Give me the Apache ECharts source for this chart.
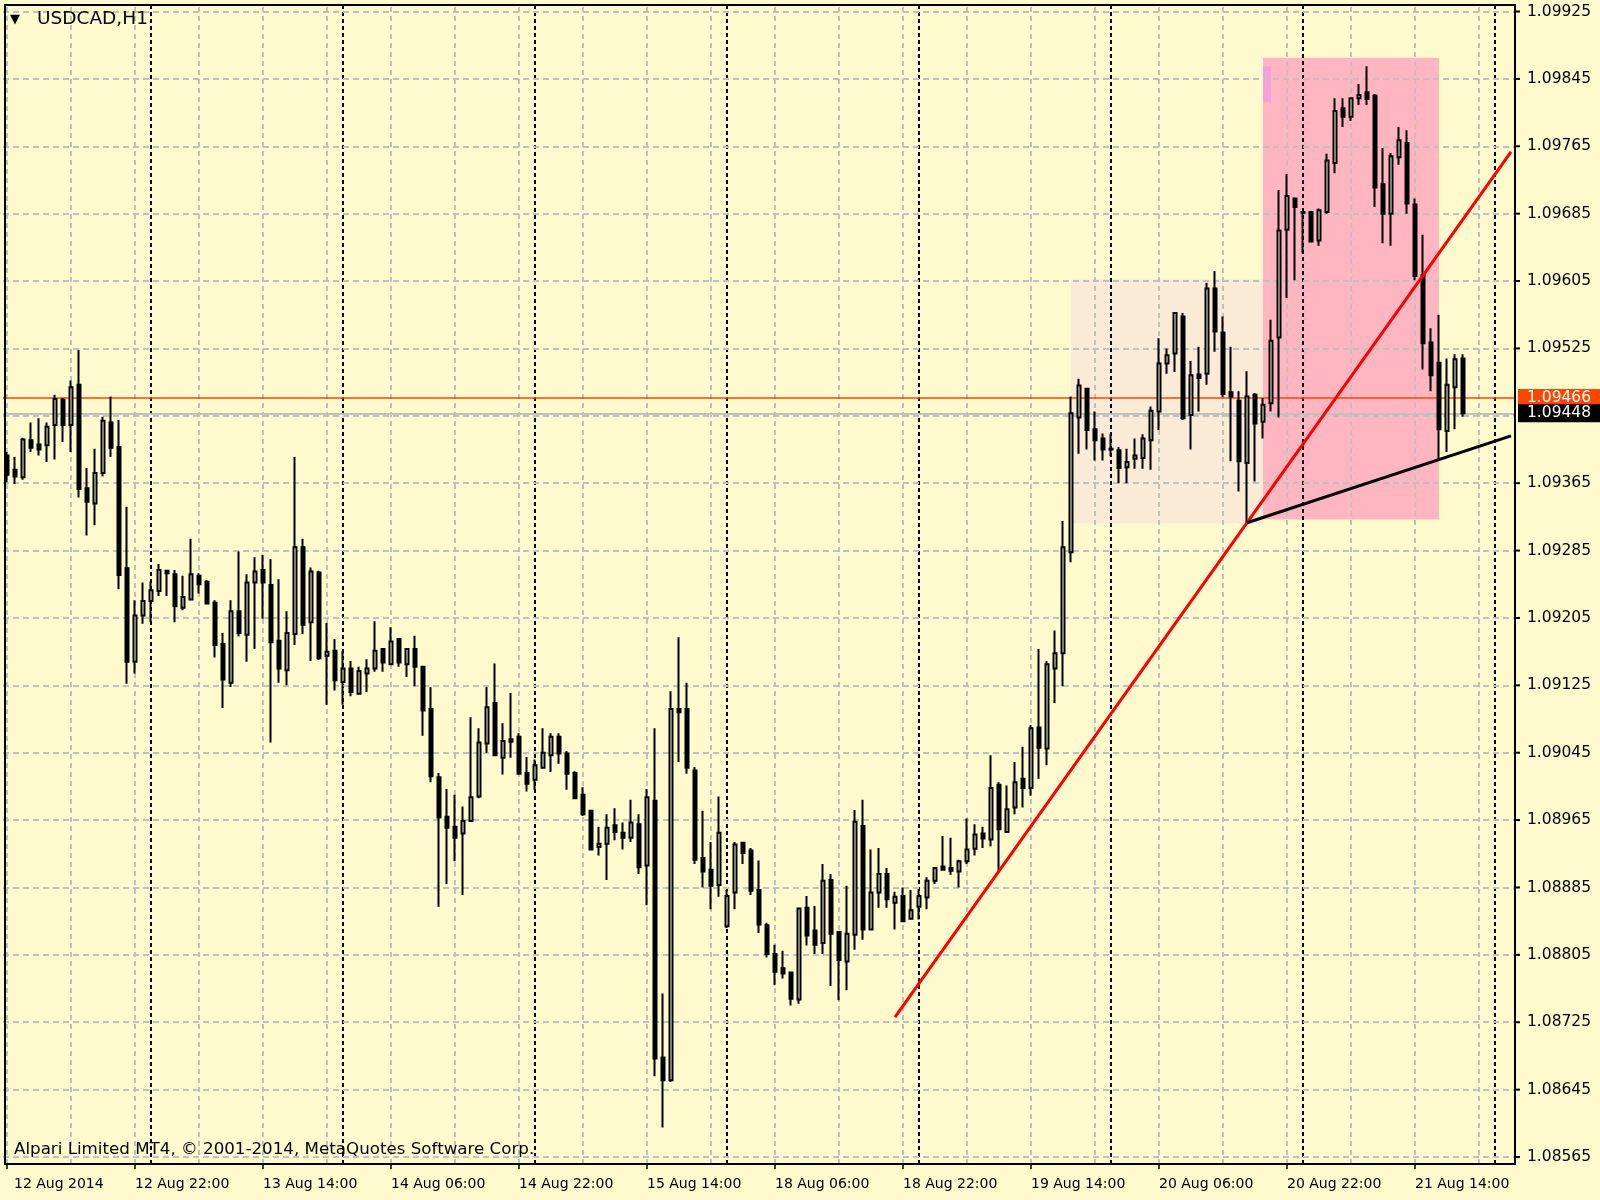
<!DOCTYPE html>
<html><head><meta charset="utf-8">
<script src="https://cdn.jsdelivr.net/npm/echarts@6/dist/echarts.min.js"></script>
<style>html,body{margin:0;padding:0;background:#FFFACD;}#c{width:1600px;height:1200px;}</style>
</head><body><div id="c"></div>
<script>
// ---------- DATA ----------
const symbolTitle = 'USDCAD,H1';
const copyrightText = 'Alpari Limited MT4, \u00A9 2001-2014, MetaQuotes Software Corp.';
const firstBarTime = '2014-08-12T06:00:00Z';
const barCount = 189; // 183 real bars + empty space on the right
const xTickLabels = ['12 Aug 2014','12 Aug 22:00','13 Aug 14:00','14 Aug 06:00','14 Aug 22:00','15 Aug 14:00','18 Aug 06:00','18 Aug 22:00','19 Aug 14:00','20 Aug 06:00','20 Aug 22:00','21 Aug 14:00'];
const yTicks = [1.09925,1.09845,1.09765,1.09685,1.09605,1.09525,1.09445,1.09365,1.09285,1.09205,1.09125,1.09045,1.08965,1.08885,1.08805,1.08725,1.08645,1.08565];
const hiddenTickLabel = 1.09445;
const bidPrice = 1.09448;
const levelPrice = 1.09466;

const opens = [1.09398,1.09381,1.09372,1.09416,1.09411,1.09410,1.09434,1.09464,1.09434,1.09482,
1.09359,1.09341,1.09377,1.09437,1.09408,1.09264,1.09153,1.09208,1.09225,1.09237,
1.09261,1.09257,1.09217,1.09227,1.09255,1.09248,1.09223,1.09174,1.09128,1.09213,
1.09185,1.09247,1.09262,1.09244,1.09178,1.09143,1.09186,1.09289,1.09200,1.09259,
1.09160,1.09166,1.09129,1.09145,1.09115,1.09139,1.09145,1.09168,1.09150,1.09180,
1.09150,1.09168,1.09147,1.09097,1.09016,1.08969,1.08957,1.08949,1.08964,1.08993,
1.09056,1.09104,1.09039,1.09061,1.09064,1.09021,1.09013,1.09027,1.09042,1.09064,
1.09044,1.09021,1.08995,1.08976,1.08933,1.08937,1.08959,1.08950,1.08944,1.08960,
1.08911,1.08988,1.08683,1.08656,1.09097,1.09097,1.09024,1.08920,1.08906,1.08888,
1.08839,1.08879,1.08938,1.08929,1.08882,1.08840,1.08806,1.08789,1.08784,1.08752,
1.08861,1.08834,1.08819,1.08894,1.08832,1.08797,1.08829,1.08958,1.08835,1.08879,
1.08901,1.08867,1.08875,1.08848,1.08862,1.08873,1.08893,1.08910,1.08908,1.08904,
1.08916,1.08931,1.08949,1.08942,1.09007,1.08951,1.08980,1.09014,1.09003,1.09075,
1.09050,1.09145,1.09163,1.09283,1.09443,1.09477,1.09429,1.09418,1.09406,1.09404,
1.09384,1.09394,1.09395,1.09416,1.09450,1.09507,1.09519,1.09563,1.09446,1.09494,
1.09495,1.09596,1.09544,1.09473,1.09463,1.09389,1.09470,1.09438,1.09460,1.09538,
1.09666,1.09703,1.09687,1.09687,1.09653,1.09687,1.09745,1.09810,1.09800,1.09822,
1.09829,1.09825,1.09720,1.09685,1.09752,1.09769,1.09696,1.09612,1.09532,1.09508,
1.09427,1.09479,1.09513];
const highs = [1.09402,1.09396,1.09419,1.09437,1.09442,1.09437,1.09470,1.09466,1.09487,1.09523,
1.09383,1.09406,1.09444,1.09468,1.09440,1.09337,1.09226,1.09247,1.09248,1.09269,
1.09262,1.09262,1.09255,1.09299,1.09258,1.09250,1.09226,1.09187,1.09226,1.09284,
1.09257,1.09277,1.09280,1.09275,1.09251,1.09213,1.09396,1.09299,1.09265,1.09261,
1.09199,1.09180,1.09166,1.09154,1.09147,1.09156,1.09201,1.09168,1.09194,1.09181,
1.09169,1.09184,1.09147,1.09123,1.09021,1.09002,1.08995,1.08981,1.09087,1.09074,
1.09123,1.09151,1.09080,1.09116,1.09068,1.09040,1.09037,1.09074,1.09068,1.09068,
1.09047,1.09023,1.09004,1.08977,1.08957,1.08972,1.08979,1.08962,1.08989,1.08972,
1.09002,1.09074,1.08759,1.09118,1.09182,1.09128,1.09028,1.08976,1.08939,1.08993,
1.08882,1.08939,1.08939,1.08932,1.08917,1.08843,1.08817,1.08810,1.08785,1.08861,
1.08875,1.08863,1.08913,1.08901,1.08833,1.08887,1.08977,1.08989,1.08930,1.08932,
1.08908,1.08880,1.08885,1.08882,1.08883,1.08897,1.08909,1.08946,1.08944,1.08918,
1.08967,1.08960,1.08957,1.09042,1.09010,1.09006,1.09034,1.09052,1.09078,1.09168,
1.09154,1.09190,1.09320,1.09468,1.09489,1.09478,1.09450,1.09424,1.09423,1.09408,
1.09406,1.09418,1.09423,1.09456,1.09537,1.09525,1.09568,1.09567,1.09510,1.09527,
1.09603,1.09617,1.09563,1.09527,1.09474,1.09498,1.09472,1.09466,1.09559,1.09713,
1.09732,1.09703,1.09687,1.09687,1.09691,1.09756,1.09822,1.09822,1.09823,1.09839,
1.09860,1.09827,1.09763,1.09757,1.09788,1.09784,1.09703,1.09660,1.09549,1.09565,
1.09513,1.09518,1.09518];
const lows = [1.09366,1.09364,1.09369,1.09402,1.09398,1.09390,1.09393,1.09414,1.09402,1.09348,
1.09303,1.09315,1.09373,1.09396,1.09239,1.09127,1.09139,1.09198,1.09200,1.09231,
1.09231,1.09200,1.09214,1.09226,1.09234,1.09221,1.09158,1.09098,1.09123,1.09183,
1.09153,1.09168,1.09204,1.09057,1.09128,1.09125,1.09173,1.09186,1.09154,1.09155,
1.09102,1.09119,1.09102,1.09112,1.09114,1.09117,1.09141,1.09141,1.09149,1.09147,
1.09135,1.09124,1.09065,1.09010,1.08862,1.08889,1.08916,1.08876,1.08963,1.08991,
1.09045,1.09041,1.09019,1.09039,1.09019,1.08999,1.09001,1.09026,1.09022,1.09032,
1.09001,1.08990,1.08970,1.08929,1.08923,1.08894,1.08941,1.08930,1.08939,1.08901,
1.08864,1.08661,1.08600,1.08654,1.09034,1.09020,1.08913,1.08885,1.08859,1.08874,
1.08837,1.08859,1.08913,1.08876,1.08831,1.08802,1.08769,1.08777,1.08745,1.08747,
1.08816,1.08806,1.08806,1.08768,1.08751,1.08763,1.08811,1.08823,1.08834,1.08861,
1.08861,1.08835,1.08844,1.08847,1.08847,1.08859,1.08889,1.08905,1.08900,1.08885,
1.08913,1.08923,1.08932,1.08934,1.08905,1.08950,1.08972,1.08980,1.08994,1.09014,
1.09030,1.09104,1.09124,1.09271,1.09400,1.09405,1.09392,1.09392,1.09397,1.09365,
1.09365,1.09382,1.09382,1.09381,1.09428,1.09495,1.09497,1.09440,1.09405,1.09450,
1.09482,1.09521,1.09467,1.09391,1.09355,1.09318,1.09367,1.09418,1.09450,1.09443,
1.09585,1.09606,1.09638,1.09651,1.09647,1.09685,1.09733,1.09788,1.09795,1.09814,
1.09814,1.09693,1.09650,1.09647,1.09743,1.09685,1.09606,1.09500,1.09474,1.09393,
1.09402,1.09429,1.09444];
const closes = [1.09375,1.09373,1.09417,1.09407,1.09405,1.09432,1.09465,1.09434,1.09479,1.09358,
1.09343,1.09377,1.09439,1.09407,1.09256,1.09153,1.09208,1.09225,1.09238,1.09262,
1.09258,1.09219,1.09230,1.09257,1.09245,1.09222,1.09173,1.09132,1.09213,1.09187,
1.09247,1.09260,1.09247,1.09176,1.09145,1.09187,1.09289,1.09197,1.09260,1.09157,
1.09165,1.09131,1.09145,1.09117,1.09142,1.09145,1.09166,1.09152,1.09177,1.09152,
1.09168,1.09147,1.09095,1.09017,1.08968,1.08956,1.08944,1.08964,1.08992,1.09057,
1.09099,1.09042,1.09059,1.09058,1.09020,1.09008,1.09030,1.09045,1.09064,1.09044,
1.09020,1.08991,1.08972,1.08930,1.08937,1.08956,1.08951,1.08944,1.08962,1.08909,
1.08992,1.08682,1.08656,1.09097,1.09093,1.09027,1.08918,1.08904,1.08887,1.08950,
1.08875,1.08936,1.08926,1.08881,1.08841,1.08806,1.08785,1.08783,1.08753,1.08860,
1.08828,1.08817,1.08893,1.08830,1.08799,1.08830,1.08963,1.08835,1.08879,1.08901,
1.08871,1.08874,1.08845,1.08858,1.08875,1.08893,1.08908,1.08906,1.08905,1.08916,
1.08930,1.08948,1.08943,1.09003,1.08954,1.08978,1.09010,1.09003,1.09074,1.09051,
1.09150,1.09163,1.09289,1.09448,1.09481,1.09428,1.09416,1.09405,1.09405,1.09383,
1.09390,1.09398,1.09418,1.09451,1.09507,1.09517,1.09567,1.09442,1.09493,1.09490,
1.09596,1.09545,1.09471,1.09468,1.09391,1.09468,1.09436,1.09458,1.09534,1.09665,
1.09706,1.09693,1.09686,1.09652,1.09689,1.09748,1.09807,1.09800,1.09822,1.09826,
1.09821,1.09716,1.09685,1.09753,1.09772,1.09697,1.09611,1.09531,1.09493,1.09429,
1.09482,1.09512,1.09448];

// trend lines: [barIndex, price] anchor pairs (rays extended to the right edge)
const trendRed = [[111, 1.08731], [155, 1.09318]];
const trendBlack = [[155, 1.09318], [179, 1.09393]];
// rectangles: [fromBar, toBar, lowPrice, highPrice]
const zoneBeige = [133, 157, 1.09317, 1.09607];
const zonePink = [157, 179, 1.09322, 1.09870];
const zoneViolet = [157, 158, 1.09817, 1.09860];

// ---------- BUILD ----------
const FONT = 'DejaVu Sans';
const BG = '#FFFACD';
const YFS = 15.5;
function pad(n){return (n<10?'0':'')+n;}
const categories = [];
(function(){
  let t = Date.parse(firstBarTime);
  while (categories.length < barCount) {
    const d = new Date(t); const wd = d.getUTCDay();
    if (wd !== 0 && wd !== 6) categories.push(d.getUTCFullYear()+'.'+pad(d.getUTCMonth()+1)+'.'+pad(d.getUTCDate())+' '+pad(d.getUTCHours())+':00');
    t += 3600000;
  }
})();
const candleData = opens.map((o,i)=>[o, closes[i], lows[i], highs[i]]);

// vertical grid every 8 bars, day separators at midnight bars
const vLines = [];
categories.forEach((c,i)=>{
  if (c.endsWith(' 00:00')) vLines.push({xAxis:c, lineStyle:{color:'#000', type:[4,3], width:2}});
  else if (i % 8 === 0) vLines.push({xAxis:c, lineStyle:{color:'#C0C0C0', type:[5,4], width:2}});
});
const hLines = yTicks.map(v=>({
  yAxis: v,
  lineStyle:{color:'#C0C0C0', type:[6,4], width:2},
  label: v === hiddenTickLabel ? {show:false} : {
    show:true, position:'end', distance:0,
    formatter:'{t|}{v|'+v.toFixed(5)+'}',
    rich:{t:{width:5,height:2,backgroundColor:'#000',verticalAlign:'middle'},
          v:{padding:[0,0,0,7],fontSize:YFS,fontFamily:FONT,color:'#000'}}
  }
}));
const priceLines = [
  {yAxis: levelPrice, lineStyle:{color:'#FF4500', type:'solid', width:1.5},
   label:{show:true, position:'end', distance:3, formatter: levelPrice.toFixed(5), backgroundColor:'#FF4500', color:'#fff', fontSize:YFS, fontFamily:FONT, padding:[1,20,1,9]}},
  {yAxis: bidPrice, lineStyle:{color:'#C0C0C0', type:'solid', width:2},
   label:{show:true, position:'end', distance:3, formatter: bidPrice.toFixed(5), backgroundColor:'#000', color:'#fff', fontSize:YFS, fontFamily:FONT, padding:[1,20,1,9]}}
];
function ray(anchors, color){
  const [i1,p1] = anchors[0], [i2,p2] = anchors[1];
  const last = categories.length - 1;
  const pEnd = p1 + (p2 - p1) * (last - i1) / (i2 - i1);
  return [{coord:[categories[i1], p1], lineStyle:{color:color, width:3, type:'solid'}}, {coord:[categories[last], pEnd]}];
}
function zone(z, color){
  return [{xAxis:categories[z[0]], yAxis:z[3], itemStyle:{color:color}}, {xAxis:categories[z[1]], yAxis:z[2]}];
}
const labelIndex = {};
xTickLabels.forEach((l,k)=>{labelIndex[k*16]=l;});

const chart = echarts.init(document.getElementById('c'), null, {renderer:'canvas'});
chart.setOption({
  animation:false,
  backgroundColor: BG,
  title:[
    {text:'{a|\u25BC}{b|'+symbolTitle+'}', left:10, top:10, padding:0,
     textStyle:{fontWeight:'normal', rich:{a:{fontFamily:FONT, fontSize:13, color:'#000', width:27, verticalAlign:'middle', fontWeight:'normal'},
                      b:{fontFamily:FONT, fontSize:18.5, color:'#000', fontWeight:'normal'}}}},
    {text:copyrightText, left:14, top:1141, padding:0, textStyle:{fontFamily:FONT, fontSize:16.7, fontWeight:'normal', color:'#000'}}
  ],
  grid:{left:3, top:5, width:1512, height:1159, containLabel:false},
  xAxis:{type:'category', data:categories, boundaryGap:true,
    axisLine:{show:false},
    axisTick:{show:true, interval:15, alignWithLabel:true, length:5, lineStyle:{color:'#000', width:1.5}},
    axisLabel:{interval:15, align:'left', margin:13, color:'#000', fontFamily:FONT, fontSize:14,
      formatter:(v,idx)=> idx === 0 ? '{f|'+labelIndex[0]+'}' : (labelIndex[idx] || ''),
      rich:{f:{padding:[0,0,0,7], fontFamily:FONT, fontSize:14, color:'#000'}}},
    splitLine:{show:false}},
  yAxis:{type:'value', position:'right', min:1.0855669, max:1.0993272, scale:true,
    axisLine:{show:false}, axisTick:{show:false}, axisLabel:{show:false}, splitLine:{show:false}},
  graphic:[{type:'rect', silent:true, z:100, shape:{x:5,y:5,width:1510,height:1159},
    style:{fill:null, stroke:'#000', lineWidth:2}}],
  series:[
    {type:'line', data:closes, z:1, silent:true, symbol:'none', lineStyle:{opacity:0, width:0},
     markArea:{silent:true, z:1, data:[zone(zoneBeige,'#FAEBD7'), zone(zonePink,'#FFB6C1'), zone(zoneViolet,'#F2A2DA')]}},
    {type:'line', data:closes, z:2, silent:true, symbol:'none', lineStyle:{opacity:0, width:0},
     markLine:{silent:true, z:2, precision:6, symbol:['none','none'], animation:false, label:{show:false}, data: vLines.concat(hLines).concat(priceLines)}},
    {type:'candlestick', name:'USDCAD', data:candleData, z:3, barWidth:4, clip:false,
     itemStyle:{color:BG, color0:'#000', borderColor:'#000', borderColor0:'#000', borderWidth:2}},
    {type:'line', data:closes, z:4, silent:true, symbol:'none', lineStyle:{opacity:0, width:0},
     markLine:{silent:true, z:6, precision:6, symbol:['none','none'], animation:false, label:{show:false},
       data:[ray(trendRed,'#FF0000'), ray(trendBlack,'#000000')]}}
  ]
});
</script></body></html>
